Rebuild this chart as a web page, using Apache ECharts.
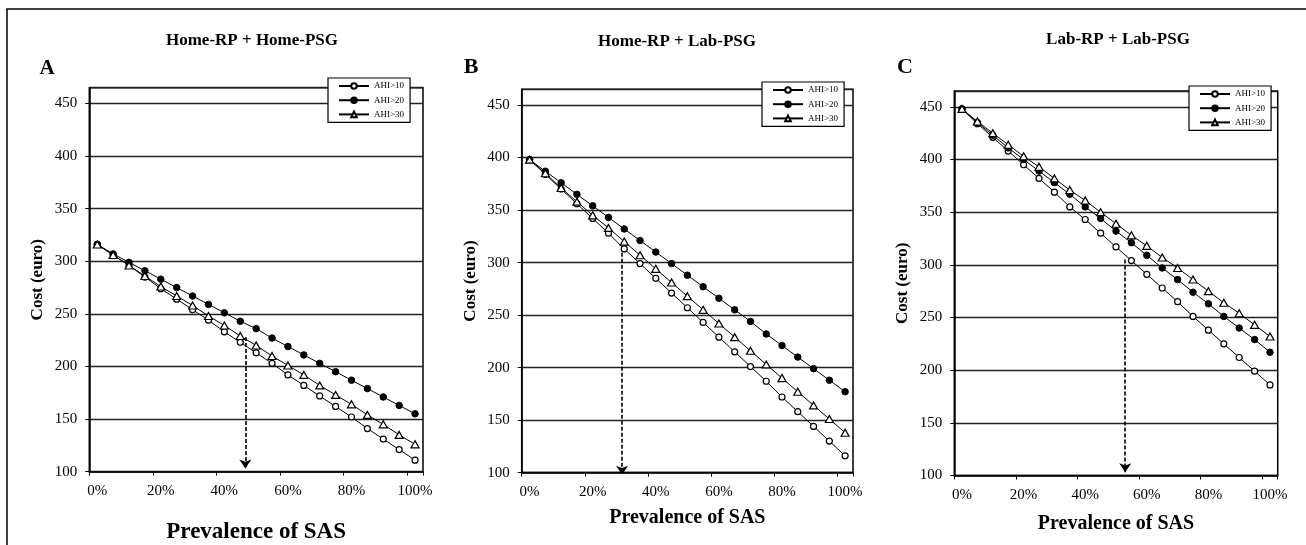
<!DOCTYPE html>
<html>
<head>
<meta charset="utf-8">
<script src="https://cdn.jsdelivr.net/npm/echarts@6/dist/echarts.min.js"></script>
<style>
  html, body { margin: 0; padding: 0; background: #fff; }
  #chart { width: 1306px; height: 545px; }
</style>
</head>
<body>
<div id="chart"></div>
<script>
// ---- Data ----
const categories = ['0%','5%','10%','15%','20%','25%','30%','35%','40%','45%','50%',
                    '55%','60%','65%','70%','75%','80%','85%','90%','95%','100%'];
const seriesNames = ['AHI>10', 'AHI>20', 'AHI>30'];
const panelTitles = ['Home-RP + Home-PSG', 'Home-RP + Lab-PSG', 'Lab-RP + Lab-PSG'];
const panelLetters = ['A', 'B', 'C'];
const yTicks = [100, 150, 200, 250, 300, 350, 400, 450];

const A_AHI10 = [316, 306, 296, 285, 274, 264, 254, 244, 233, 223, 213, 203, 192, 182, 172, 162, 152, 141, 131, 121, 111];
const A_AHI20 = [316, 307, 299, 291, 283, 275, 267, 259, 251, 243, 236, 227, 219, 211, 203, 195, 187, 179, 171, 163, 155];
const A_AHI30 = [316, 306, 296, 286, 276, 267, 258, 248, 239, 229, 220, 210, 201, 192, 182, 173, 164, 154, 145, 135, 126];

const B_AHI10 = [398, 384, 370, 356, 342, 328, 313, 299, 285, 271, 257, 243, 229, 215, 201, 187, 172, 158, 144, 130, 116];
const B_AHI20 = [398, 387, 376, 365, 354, 343, 332, 321, 310, 299, 288, 277, 266, 255, 244, 232, 221, 210, 199, 188, 177];
const B_AHI30 = [398, 385, 371, 358, 345, 333, 320, 307, 294, 281, 268, 255, 242, 229, 216, 203, 190, 177, 164, 151, 138];

const C_AHI10 = [448, 434, 421, 408, 395, 382, 369, 355, 343, 330, 317, 304, 291, 278, 265, 251, 238, 225, 212, 199, 186];
const C_AHI20 = [448, 435, 423, 411, 400, 389, 378, 367, 355, 344, 332, 321, 309, 297, 286, 274, 263, 251, 240, 229, 217];
const C_AHI30 = [448, 436, 425, 414, 403, 393, 382, 371, 361, 350, 339, 328, 318, 307, 297, 286, 275, 264, 254, 243, 232];

// dashed arrows: prevalence (%) where drawn, start and end cost
const arrowX = [46.6, 29.3, 53.0];
const arrowTop = [228, 315, 305];
const arrowBottom = [103, 98, 103];

const panelData = [
  [A_AHI10, A_AHI20, A_AHI30],
  [B_AHI10, B_AHI20, B_AHI30],
  [C_AHI10, C_AHI20, C_AHI30]
];

// ---- Layout / style ----
const FONT = "'Liberation Serif', 'Times New Roman', serif";
const grids = [
  { left: 89.3, right: 883, top: 87.7, bottom: 73.3 },
  { left: 521.7, right: 453, top: 89.3, bottom: 72.4 },
  { left: 954.3, right: 28.3, top: 91, bottom: 69.5 }
];
const xNameSize = [23, 20, 20];
const xNameGap = [49, 35.5, 38.5];
const legendPos = [
  { left: 328, top: 78 },
  { left: 762, top: 82 },
  { left: 1189, top: 86 }
];
const titlePos = [[252, 41], [677, 42], [1118, 40]];
const letterPos = [[47, 69], [471, 67], [905, 67]];
const letterSize = [21, 22, 22];

const symbolStyles = [
  { symbol: 'circle', symbolSize: 6, itemStyle: { color: '#fff', borderColor: '#000', borderWidth: 1.2 } },
  { symbol: 'circle', symbolSize: 6.5, itemStyle: { color: '#000', borderColor: '#000', borderWidth: 1 } },
  { symbol: 'triangle', symbolSize: [8, 7], itemStyle: { color: '#fff', borderColor: '#000', borderWidth: 1.2 } }
];

const option = {
  backgroundColor: '#fff',
  animation: false,
  grid: [], xAxis: [], yAxis: [], series: [], legend: [], graphic: []
};

for (let p = 0; p < 3; p++) {
  option.grid.push(Object.assign({
    show: true, borderColor: '#000', borderWidth: 1.5, backgroundColor: 'transparent',
    containLabel: false, outerBoundsMode: 'none'
  }, grids[p]));

  // category axis (visible)
  option.xAxis.push({
    type: 'category', gridIndex: p, data: categories, boundaryGap: true,
    name: 'Prevalence of SAS', nameLocation: 'middle', nameGap: xNameGap[p],
    nameTextStyle: { fontFamily: FONT, fontSize: xNameSize[p], fontWeight: 'bold', color: '#000' },
    axisLine: { onZero: false, lineStyle: { color: '#000', width: 1.5 } },
    axisTick: { show: true, interval: 3, length: 4, alignWithLabel: false, lineStyle: { color: '#000', width: 1 } },
    axisLabel: { interval: 3, margin: 12, fontFamily: FONT, fontSize: 15, color: '#000' },
    splitLine: { show: false }
  });
  // hidden value axis for the annotation arrow (same grid)
  option.xAxis.push({
    type: 'value', gridIndex: p, min: -2.5, max: 102.5, show: false,
    axisLine: { onZero: false }, splitLine: { show: false }
  });

  option.yAxis.push({
    type: 'value', gridIndex: p, min: yTicks[0], max: 465, interval: 50,
    name: 'Cost (euro)', nameLocation: 'middle', nameGap: 43, nameRotate: 90,
    nameTextStyle: { fontFamily: FONT, fontSize: 17, fontWeight: 'bold', color: '#000' },
    axisLine: { show: true, onZero: false, lineStyle: { color: '#000', width: 1.5 } },
    axisTick: { show: true, length: 4, lineStyle: { color: '#000', width: 1 } },
    axisLabel: { margin: 12, fontFamily: FONT, fontSize: 15, color: '#000', showMaxLabel: false },
    splitLine: { show: true, lineStyle: { color: '#222', width: 1.3 } }
  });

  for (let s = 0; s < 3; s++) {
    option.series.push(Object.assign({
      type: 'line', name: seriesNames[s],
      xAxisIndex: p * 2, yAxisIndex: p,
      data: panelData[p][s],
      showAllSymbol: true,
      lineStyle: { color: '#000', width: 1 },
      z: 3 + s
    }, JSON.parse(JSON.stringify(symbolStyles[s]))));
  }

  option.series.push({
    type: 'lines', coordinateSystem: 'cartesian2d',
    xAxisIndex: p * 2 + 1, yAxisIndex: p,
    symbol: ['none', 'arrow'], symbolSize: [0, 9],
    lineStyle: { color: '#000', width: 1.6, type: [4, 2], opacity: 1 },
    data: [{ coords: [[arrowX[p], arrowTop[p]], [arrowX[p], arrowBottom[p]]] }],
    z: 2, silent: true
  });

  option.legend.push({
    data: seriesNames, orient: 'vertical',
    left: legendPos[p].left, top: legendPos[p].top,
    backgroundColor: '#fff', borderColor: '#000', borderWidth: 1.2,
    padding: [3, 6, 3, 10],
    itemWidth: 30, itemHeight: 7, itemGap: 4.2,
    textStyle: { fontFamily: FONT, fontSize: 9, color: '#000', lineHeight: 10 },
    selectedMode: false
  });

  option.graphic.push({
    type: 'text', x: titlePos[p][0], y: titlePos[p][1], silent: true,
    style: { text: panelTitles[p], font: 'bold 17px ' + FONT, fill: '#000',
             align: 'center', verticalAlign: 'middle', textAlign: 'center', textVerticalAlign: 'middle' }
  });
  option.graphic.push({
    type: 'text', x: letterPos[p][0], y: letterPos[p][1], silent: true,
    style: { text: panelLetters[p], font: 'bold ' + letterSize[p] + 'px ' + FONT, fill: '#000',
             align: 'center', verticalAlign: 'middle', textAlign: 'center', textVerticalAlign: 'middle' }
  });
}

// outer frame of the figure
option.graphic.push({
  type: 'rect', silent: true, z: -1,
  shape: { x: 7, y: 9, width: 1330, height: 570 },
  style: { fill: 'none', stroke: '#000', lineWidth: 1.5 }
});

const chart = echarts.init(document.getElementById('chart'), null, { renderer: 'canvas' });
chart.setOption(option);
</script>
</body>
</html>
